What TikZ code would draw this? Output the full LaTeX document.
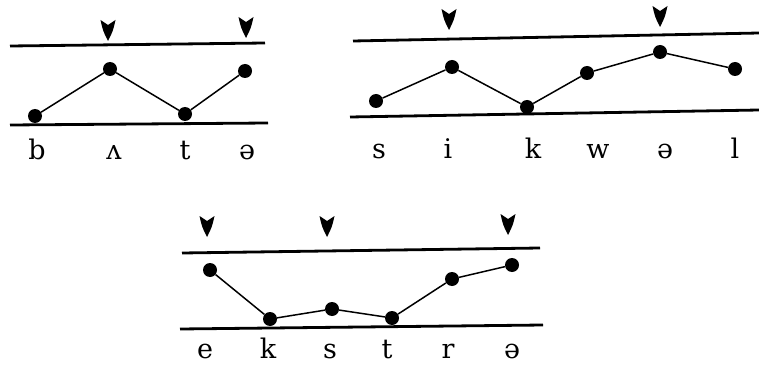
\documentclass[tikz,border=0pt]{standalone}
\usepackage{fontspec}
\setmainfont{DejaVu Serif}
\begin{document}
\begin{tikzpicture}[x=1pt,y=-1pt,
  tier/.style={line width=2.8pt},
  link/.style={line width=1.5pt},
  dot/.style={circle,fill=black,inner sep=0pt,minimum size=14pt},
  seg/.style={anchor=base,inner sep=0pt,font=\fontsize{27}{27}\selectfont},
  stress/.pic={\fill (-7.5,-21) -- (0,-16) -- (7.5,-21) .. controls (5,-10) .. (0,0) .. controls (-5,-10) .. cycle;}]
\useasboundingbox (0,0) rectangle (759,366);
% Panel 1
\draw[tier] (10,46) -- (265,43);
\draw[tier] (10,125) -- (268,123);
\pic at (108,41) {stress};
\pic at (246,38) {stress};
\node[dot] (a1) at (35,116) {};
\node[dot] (a2) at (110,69) {};
\node[dot] (a3) at (185,114) {};
\node[dot] (a4) at (245,71) {};
\draw[link] (a1) -- (a2) -- (a3) -- (a4);
\node[seg] (la1) at (37,160) {b};
\node[seg] (la2) at (114,160) {ʌ};
\node[seg] (la3) at (185,160) {t};
\node[seg] (la4) at (247,160) {ə};
% Panel 2
\draw[tier] (353,41) -- (759,33);
\draw[tier] (350,117) -- (759,110);
\pic at (449,30) {stress};
\pic at (660,27) {stress};
\node[dot] (b1) at (376,101) {};
\node[dot] (b2) at (452,67) {};
\node[dot] (b3) at (527,107) {};
\node[dot] (b4) at (587,73) {};
\node[dot] (b5) at (660,52) {};
\node[dot] (b6) at (735,69) {};
\draw[link] (b1) -- (b2) -- (b3) -- (b4) -- (b5) -- (b6);
\node[seg] (lb1) at (379,159) {s};
\node[seg] (lb2) at (448,159) {i};
\node[seg] (lb3) at (533,159) {k};
\node[seg] (lb4) at (598,159) {w};
\node[seg] (lb5) at (665,159) {ə};
\node[seg] (lb6) at (735,159) {l};
% Panel 3
\draw[tier] (182,253) -- (540,248);
\draw[tier] (180,329) -- (543,325);
\pic at (207,237) {stress};
\pic at (327,237) {stress};
\pic at (508,235) {stress};
\node[dot] (c1) at (210,270) {};
\node[dot] (c2) at (270,319) {};
\node[dot] (c3) at (332,309) {};
\node[dot] (c4) at (392,318) {};
\node[dot] (c5) at (452,279) {};
\node[dot] (c6) at (512,265) {};
\draw[link] (c1) -- (c2) -- (c3) -- (c4) -- (c5) -- (c6);
\node[seg] (lc1) at (205,358) {e};
\node[seg] (lc2) at (268,358) {k};
\node[seg] (lc3) at (330,358) {s};
\node[seg] (lc4) at (387,358) {t};
\node[seg] (lc5) at (448,358) {r};
\node[seg] (lc6) at (512,358) {ə};
\end{tikzpicture}
\end{document}
